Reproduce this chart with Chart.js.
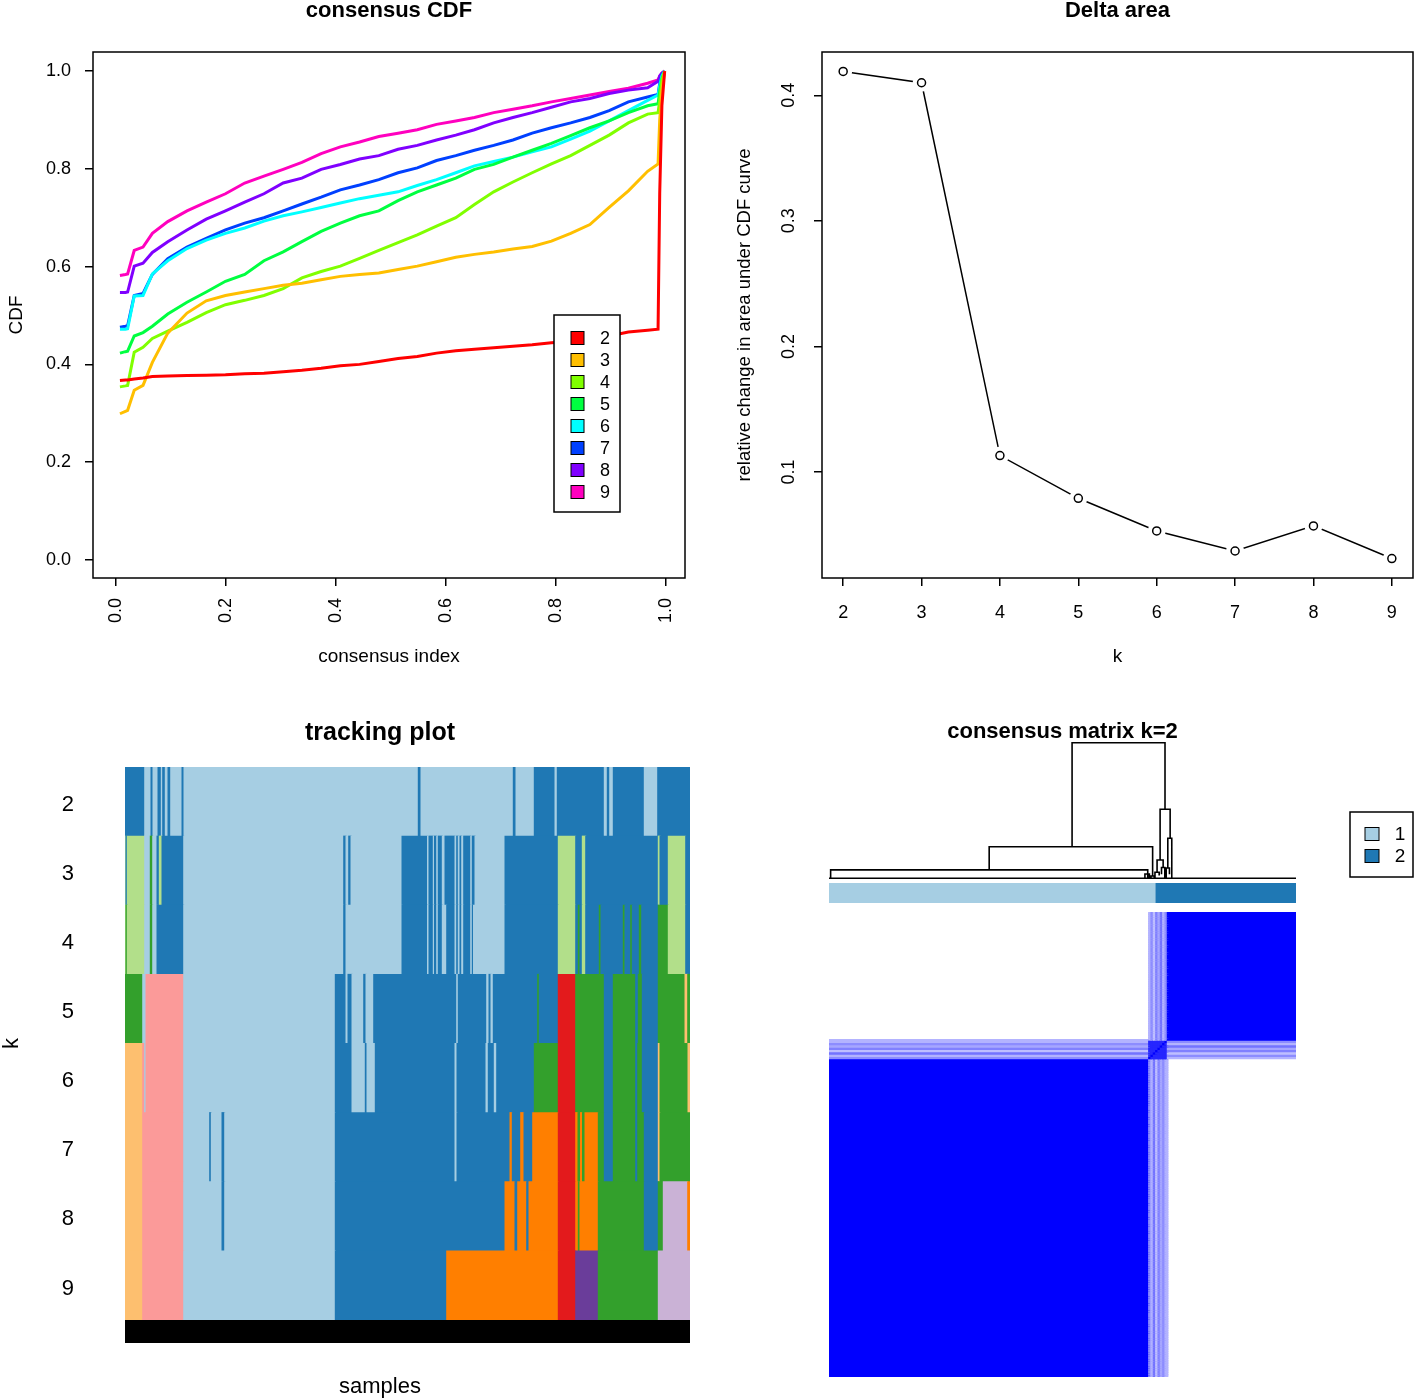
<!DOCTYPE html>
<html>
<head>
<meta charset="utf-8">
<title>consensus clustering</title>
<script src="https://cdn.jsdelivr.net/npm/chart.js@4.4.1/dist/chart.umd.min.js"></script>
<style>
  html, body { margin: 0; padding: 0; background: #fff; }
  body { width: 1416px; height: 1400px; position: relative; overflow: hidden; }
  canvas { position: absolute; }
</style>
</head>
<body>
<canvas id="cdfChart" width="708" height="700" style="left:0;top:0"></canvas>
<canvas id="deltaChart" width="708" height="700" style="left:708px;top:0"></canvas>
<canvas id="trackChart" width="760" height="700" style="left:0;top:700px"></canvas>
<canvas id="dendroChart" width="656" height="206" style="left:760px;top:700px"></canvas>
<canvas id="clusterBar" width="656" height="20" style="left:760px;top:883px"></canvas>
<canvas id="heatChart" width="656" height="465" style="left:760px;top:912px"></canvas>
<script>
// ---- consensus CDF (one y array per k, shared consensus index grid) ----
const cdfIndex = [0.007, 0.017, 0.021, 0.033, 0.049, 0.066, 0.094, 0.129, 0.164, 0.199, 0.234, 0.269, 0.304, 0.338, 0.373, 0.408, 0.443, 0.478, 0.513, 0.548, 0.583, 0.618, 0.652, 0.687, 0.722, 0.757, 0.792, 0.827, 0.862, 0.897, 0.932, 0.967, 0.986, 0.989, 0.993, 0.998];
const cdfK2 = [0.367, 0.368, 0.368, 0.370, 0.372, 0.375, 0.376, 0.377, 0.378, 0.379, 0.381, 0.382, 0.385, 0.388, 0.392, 0.397, 0.400, 0.406, 0.412, 0.416, 0.423, 0.428, 0.431, 0.434, 0.437, 0.440, 0.444, 0.447, 0.451, 0.458, 0.466, 0.470, 0.472, 0.75, 0.93, 1.0];
const cdfK3 = [0.299, 0.304, 0.306, 0.347, 0.357, 0.404, 0.464, 0.505, 0.530, 0.541, 0.548, 0.555, 0.562, 0.566, 0.573, 0.580, 0.584, 0.587, 0.594, 0.601, 0.610, 0.619, 0.625, 0.630, 0.636, 0.641, 0.652, 0.668, 0.686, 0.721, 0.755, 0.795, 0.81, 0.90, 0.96, 1.0];
const cdfK4 = [0.354, 0.356, 0.357, 0.425, 0.435, 0.453, 0.468, 0.486, 0.506, 0.522, 0.531, 0.541, 0.555, 0.577, 0.590, 0.601, 0.617, 0.633, 0.649, 0.665, 0.683, 0.700, 0.727, 0.753, 0.773, 0.792, 0.810, 0.827, 0.848, 0.869, 0.894, 0.912, 0.915, 0.94, 0.98, 1.0];
const cdfK5 = [0.423, 0.426, 0.427, 0.458, 0.465, 0.478, 0.503, 0.527, 0.548, 0.570, 0.584, 0.612, 0.630, 0.651, 0.672, 0.689, 0.704, 0.714, 0.735, 0.753, 0.767, 0.781, 0.799, 0.809, 0.824, 0.838, 0.852, 0.868, 0.884, 0.898, 0.915, 0.929, 0.933, 0.96, 0.985, 1.0];
const cdfK6 = [0.472, 0.472, 0.473, 0.540, 0.541, 0.585, 0.612, 0.637, 0.654, 0.668, 0.679, 0.693, 0.704, 0.712, 0.721, 0.730, 0.739, 0.746, 0.753, 0.766, 0.778, 0.792, 0.806, 0.815, 0.824, 0.835, 0.845, 0.861, 0.877, 0.898, 0.919, 0.940, 0.951, 0.97, 0.99, 1.0];
const cdfK7 = [0.476, 0.478, 0.479, 0.541, 0.545, 0.584, 0.616, 0.640, 0.658, 0.675, 0.689, 0.700, 0.714, 0.728, 0.742, 0.757, 0.767, 0.778, 0.792, 0.802, 0.817, 0.827, 0.838, 0.848, 0.859, 0.873, 0.884, 0.894, 0.905, 0.919, 0.937, 0.947, 0.952, 0.975, 0.993, 1.0];
const cdfK8 = [0.547, 0.547, 0.548, 0.601, 0.607, 0.629, 0.651, 0.675, 0.697, 0.714, 0.732, 0.749, 0.771, 0.781, 0.799, 0.809, 0.820, 0.827, 0.840, 0.848, 0.859, 0.869, 0.880, 0.894, 0.905, 0.915, 0.926, 0.937, 0.944, 0.954, 0.961, 0.966, 0.979, 0.99, 0.996, 1.0];
const cdfK9 = [0.582, 0.584, 0.585, 0.633, 0.640, 0.668, 0.692, 0.714, 0.732, 0.749, 0.771, 0.785, 0.799, 0.813, 0.831, 0.845, 0.855, 0.866, 0.873, 0.880, 0.891, 0.898, 0.905, 0.915, 0.922, 0.929, 0.937, 0.944, 0.951, 0.958, 0.965, 0.975, 0.982, 0.99, 0.996, 1.0];
const cdfSeries = [cdfK2, cdfK3, cdfK4, cdfK5, cdfK6, cdfK7, cdfK8, cdfK9];
const kLabels = ['2', '3', '4', '5', '6', '7', '8', '9'];
const kColors = ['#FF0000', '#FFBF00', '#80FF00', '#00FF40', '#00FFFF', '#0040FF', '#8000FF', '#FF00BF'];

// ---- delta area ----
const deltaK = [2, 3, 4, 5, 6, 7, 8, 9];
const deltaArea = [0.419, 0.410, 0.113, 0.079, 0.053, 0.037, 0.057, 0.031];

// ---- tracking plot: runs of samples [from, to, cluster colour] for each k ----
const trackColors = { LB: '#A6CEE3', DB: '#1F78B4', LG: '#B2DF8A', G: '#33A02C', P: '#FB9A99', R: '#E31A1C', LO: '#FDBF6F', O: '#FF7F00', LP: '#CAB2D6', PU: '#6A3D9A' };
const trackK2 = [[0,19.7,'DB'],[19.7,26,'LB'],[26,28,'DB'],[28,33,'LB'],[33,36.3,'DB'],[36.3,37.7,'LB'],[37.7,40.3,'DB'],[40.3,43,'LB'],[43,45.7,'DB'],[45.7,57,'LB'],[57,59,'DB'],[59,293.3,'LB'],[293.3,296,'DB'],[296,388.3,'LB'],[388.3,391,'DB'],[391,409.3,'LB'],[409.3,430,'DB'],[430,432.3,'LB'],[432.3,479.3,'DB'],[479.3,482.3,'LB'],[482.3,484.7,'DB'],[484.7,488.3,'LB'],[488.3,519.3,'DB'],[519.3,532.7,'LB'],[532.7,565,'DB']];
const trackK3 = [[0,1,'LG'],[1,2.3,'DB'],[2.3,19.7,'LG'],[19.7,25.3,'LB'],[25.3,27.7,'G'],[27.7,32,'LB'],[32,34.3,'DB'],[34.3,37,'LG'],[37,58.7,'DB'],[58.7,218.7,'LB'],[218.7,221,'DB'],[221,223.7,'LB'],[223.7,226,'DB'],[226,277,'LB'],[277,302.5,'DB'],[302.5,304,'LB'],[304,308.3,'DB'],[308.3,309.5,'LB'],[309.5,311.7,'DB'],[311.7,313.3,'LB'],[313.3,317.3,'DB'],[317.3,320,'LB'],[320,330,'DB'],[330,331.7,'LB'],[331.7,333.3,'DB'],[333.3,335,'LB'],[335,336.7,'DB'],[336.7,338.7,'LB'],[338.7,345.7,'DB'],[345.7,347.3,'LB'],[347.3,350,'DB'],[350,380,'LB'],[380,433.3,'DB'],[433.3,450.7,'LG'],[450.7,457.3,'DB'],[457.3,460.7,'LG'],[460.7,533.3,'DB'],[533.3,535,'LG'],[535,543.3,'DB'],[543.3,560.7,'LG'],[560.7,565,'DB']];
const trackK4 = [[0,1,'LG'],[1,2.3,'G'],[2.3,19.7,'LG'],[19.7,25.3,'LB'],[25.3,27.7,'G'],[27.7,32,'LB'],[32,58.7,'DB'],[58.7,218.7,'LB'],[218.7,221,'DB'],[221,277,'LB'],[277,302.5,'DB'],[302.5,304,'LB'],[304,308.3,'DB'],[308.3,309.5,'LB'],[309.5,311.7,'DB'],[311.7,313.3,'LB'],[313.3,317.3,'DB'],[317.3,321.7,'LB'],[321.7,330,'DB'],[330,331.7,'LB'],[331.7,333.3,'DB'],[333.3,335,'LB'],[335,336.7,'DB'],[336.7,338.7,'LB'],[338.7,345.7,'DB'],[345.7,347.3,'LB'],[347.3,348.5,'DB'],[348.5,380,'LB'],[380,433.3,'DB'],[433.3,450.7,'LG'],[450.7,453.3,'DB'],[453.3,455,'G'],[455,457.3,'DB'],[457.3,460.7,'LG'],[460.7,474.3,'DB'],[474.3,476,'G'],[476,498.3,'DB'],[498.3,500,'G'],[500,505.7,'DB'],[505.7,507.3,'G'],[507.3,514.3,'DB'],[514.3,516.7,'G'],[516.7,533.3,'DB'],[533.3,543.3,'G'],[543.3,560.7,'LG'],[560.7,565,'DB']];
const trackK5 = [[0,17.7,'G'],[17.7,21,'LB'],[21,58.7,'P'],[58.7,210.3,'LB'],[210.3,221,'DB'],[221,223,'LB'],[223,227,'DB'],[227,238.7,'LB'],[238.7,241,'DB'],[241,248.7,'LB'],[248.7,331.7,'DB'],[331.7,333.3,'LB'],[333.3,361.7,'DB'],[361.7,364,'LB'],[364,366,'DB'],[366,368.3,'LB'],[368.3,412.7,'DB'],[412.7,414.3,'G'],[414.3,433.3,'DB'],[433.3,450.7,'R'],[450.7,479.3,'G'],[479.3,488.3,'DB'],[488.3,510.7,'G'],[510.7,513.3,'DB'],[513.3,517.3,'G'],[517.3,533.3,'DB'],[533.3,560,'G'],[560,562.7,'LO'],[562.7,565,'G']];
const trackK6 = [[0,17.7,'LO'],[17.7,19.7,'P'],[19.7,21,'LB'],[21,58.7,'P'],[58.7,210.3,'LB'],[210.3,227,'DB'],[227,240.3,'LB'],[240.3,242,'DB'],[242,250.3,'LB'],[250.3,330,'DB'],[330,332,'LB'],[332,361,'DB'],[361,363.3,'LB'],[363.3,369.3,'DB'],[369.3,371.7,'LB'],[371.7,409.3,'DB'],[409.3,433.3,'G'],[433.3,450.7,'R'],[450.7,479.3,'G'],[479.3,488.3,'DB'],[488.3,510.7,'G'],[510.7,512.7,'DB'],[512.7,517.3,'G'],[517.3,533.3,'DB'],[533.3,535,'LO'],[535,563,'G'],[563,565,'LO']];
const trackK7 = [[0,17.7,'LO'],[17.7,58.7,'P'],[58.7,84.7,'LB'],[84.7,86.3,'DB'],[86.3,97,'LB'],[97,99.7,'DB'],[99.7,210.3,'LB'],[210.3,330,'DB'],[330,332,'LB'],[332,385,'DB'],[385,387.3,'O'],[387.3,395.7,'DB'],[395.7,399,'O'],[399,407.7,'DB'],[407.7,433.3,'O'],[433.3,450.7,'R'],[450.7,453,'O'],[453,455.5,'G'],[455.5,457.5,'O'],[457.5,460,'G'],[460,473.3,'O'],[473.3,479.3,'G'],[479.3,488.3,'DB'],[488.3,510.7,'G'],[510.7,512.7,'DB'],[512.7,519.3,'G'],[519.3,533.3,'DB'],[533.3,535,'LO'],[535,565,'G']];
const trackK8 = [[0,17.7,'LO'],[17.7,58.7,'P'],[58.7,97,'LB'],[97,99.7,'DB'],[99.7,210.3,'LB'],[210.3,380,'DB'],[380,390,'O'],[390,392.7,'DB'],[392.7,401.7,'O'],[401.7,404,'DB'],[404,433.3,'O'],[433.3,450.7,'R'],[450.7,453.3,'O'],[453.3,455,'G'],[455,473.3,'O'],[473.3,519.3,'G'],[519.3,533.3,'DB'],[533.3,538.3,'G'],[538.3,562.7,'LP'],[562.7,565,'O']];
const trackK9 = [[0,17.7,'LO'],[17.7,58.7,'P'],[58.7,210.3,'LB'],[210.3,321.7,'DB'],[321.7,433.3,'O'],[433.3,450.7,'R'],[450.7,473.3,'PU'],[473.3,533.3,'G'],[533.3,565,'LP']];
const trackRows = [trackK2, trackK3, trackK4, trackK5, trackK6, trackK7, trackK8, trackK9];
const sampleCount = 565;

// ---- consensus matrix k=2 ----
const clusterLabels = ['1', '2'];
const clusterColors = ['#A6CEE3', '#1F78B4'];
const clusterBreaks = [0, 140, 200];
const heatGroupSizes = [137, 8, 55]; // stable cluster 1, unstable samples, stable cluster 2
const bandVsC1 = [0.45, 0.30, 0.55, 0.25, 0.50, 0.35, 0.45, 0.30];
const bandVsC2 = [0.30, 0.45, 0.25, 0.50, 0.35, 0.55, 0.30, 0.45];
const bandVsBand = 0.85;

// dendrogram brackets: left x, right x, merge height, left leg bottom, right leg bottom
const dendroLeft  = [104.1, 68.6, 0.7, 141.8, 145.1, 140.5, 135.3, 139.6, 142.4, 144.4, 137.9, 0];
const dendroRight = [143.9, 138.6, 136.5, 146.1, 146.8, 143.1, 137.2, 141.4, 143.8, 145.8, 139.3, 200];
const dendroHeight = [1.0, 0.233, 0.062, 0.509, 0.295, 0.135, 0.032, 0.045, 0.08, 0.076, 0.017, 0];
const dendroDropL = [0.233, 0.062, 0, 0.135, 0.076, 0.045, 0, 0, 0.03, 0, 0, 0];
const dendroDropR = [0.509, 0.017, 0, 0.295, 0, 0.08, 0, 0.02, 0, 0.03, 0, 0];

document.addEventListener('DOMContentLoaded', () => {
    Chart.defaults.font.family = '"Liberation Sans", Arial, Helvetica, sans-serif';
    Chart.defaults.color = '#000';
    Chart.defaults.animation = false;
    Chart.defaults.events = [];
    Chart.defaults.plugins.legend.display = false;
    Chart.defaults.plugins.tooltip.enabled = false;

    // box round the plot region, like R's box()
    const framePlugin = {
        id: 'frame',
        afterDraw(chart) {
            const { ctx, chartArea: a } = chart;
            ctx.save();
            ctx.strokeStyle = '#000';
            ctx.lineWidth = 1.5;
            ctx.strokeRect(a.left, a.top, a.right - a.left, a.bottom - a.top);
            ctx.restore();
        },
    };

    const tickGrid = { display: true, drawOnChartArea: false, drawTicks: true, tickLength: 8, color: '#000', lineWidth: 1.5 };

    // fixed axis sizes, and no extra room asked for the end labels
    const fixHeight = h => s => { s.height = h; s.paddingLeft = 0; s.paddingRight = 0; };
    const fixWidth = w => s => { s.width = w; s.paddingTop = 0; s.paddingBottom = 0; };

    // ---------- consensus CDF ----------
    const cdfLegend = {
        id: 'cdfLegend',
        afterDatasetsDraw(chart) {
            const ctx = chart.ctx;
            ctx.save();
            ctx.fillStyle = '#fff';
            ctx.fillRect(554, 315, 66, 197);
            ctx.strokeStyle = '#000';
            ctx.lineWidth = 1.5;
            ctx.strokeRect(554, 315, 66, 197);
            ctx.font = '18px "Liberation Sans", Arial, sans-serif';
            ctx.textAlign = 'center';
            ctx.textBaseline = 'middle';
            chart.data.datasets.forEach((ds, i) => {
                const y = 338 + i * 22;
                ctx.fillStyle = ds.borderColor;
                ctx.fillRect(571, y - 6.5, 13, 13);
                ctx.lineWidth = 1;
                ctx.strokeRect(571, y - 6.5, 13, 13);
                ctx.fillStyle = '#000';
                ctx.fillText(ds.label, 605, y + 1);
            });
            ctx.restore();
        },
    };

    new Chart(document.getElementById('cdfChart').getContext('2d'), {
        type: 'line',
        data: {
            datasets: cdfSeries.map((ys, i) => ({
                label: kLabels[i],
                data: cdfIndex.map((x, j) => ({ x, y: ys[j] })),
                borderColor: kColors[i],
                borderWidth: 3,
                pointRadius: 0,
                fill: false,
            })),
        },
        options: {
            responsive: false,
            layout: { autoPadding: false, padding: { left: 0, right: 23, top: 0, bottom: 0 } },
            plugins: {
                title: {
                    display: true, text: 'consensus CDF', fullSize: false,
                    font: { size: 22, weight: 'bold', lineHeight: 1 },
                    padding: { top: 0, bottom: 30 }, color: '#000',
                },
            },
            scales: {
                x: {
                    type: 'linear', min: -0.042, max: 1.035,
                    afterFit: fixHeight(122),
                    grid: tickGrid,
                    border: { display: false },
                    ticks: { stepSize: 0.2, includeBounds: false, minRotation: 90, maxRotation: 90, padding: 12, font: { size: 18 }, callback: v => v.toFixed(1) },
                    title: { display: true, text: 'consensus index', font: { size: 19, lineHeight: 1 }, padding: { top: 0, bottom: 33.5 } },
                },
                y: {
                    min: -0.037, max: 1.039,
                    afterFit: fixWidth(93),
                    grid: tickGrid,
                    border: { display: false },
                    ticks: { stepSize: 0.2, includeBounds: false, padding: 14, font: { size: 18 }, callback: v => v.toFixed(1) },
                    title: { display: true, text: 'CDF', font: { size: 19, lineHeight: 1 }, padding: { top: 7, bottom: 0 } },
                },
            },
        },
        plugins: [cdfLegend, framePlugin],
    });

    // ---------- Delta area ----------
    const deltaPoints = deltaK.map((k, i) => ({ x: k, y: deltaArea[i] }));
    new Chart(document.getElementById('deltaChart').getContext('2d'), {
        type: 'line',
        data: {
            datasets: [
                { data: deltaPoints, showLine: false, pointRadius: 4, pointBorderWidth: 1.5, pointBorderColor: '#000', pointBackgroundColor: '#fff', order: 0 },
                { data: deltaPoints, showLine: false, pointRadius: 9, pointBorderWidth: 0, pointBackgroundColor: '#fff', order: 1 },
                { data: deltaPoints, borderColor: '#000', borderWidth: 1.5, pointRadius: 0, fill: false, order: 2 },
            ],
        },
        options: {
            responsive: false,
            layout: { autoPadding: false, padding: { left: 0, right: 3, top: 0, bottom: 0 } },
            plugins: {
                title: {
                    display: true, text: 'Delta area', fullSize: false,
                    font: { size: 22, weight: 'bold', lineHeight: 1 },
                    padding: { top: 0, bottom: 30 }, color: '#000',
                },
            },
            scales: {
                x: {
                    type: 'linear', min: 1.73, max: 9.27,
                    afterFit: fixHeight(122),
                    grid: tickGrid,
                    border: { display: false },
                    ticks: { stepSize: 1, includeBounds: false, padding: 16, font: { size: 18 } },
                    title: { display: true, text: 'k', font: { size: 19, lineHeight: 1 }, padding: { top: 0, bottom: 33.5 } },
                },
                y: {
                    min: 0.0155, max: 0.4345,
                    afterFit: fixWidth(114),
                    grid: tickGrid,
                    border: { display: false },
                    ticks: { stepSize: 0.1, includeBounds: false, minRotation: 90, maxRotation: 90, crossAlign: 'center', padding: 12.5, font: { size: 18 }, callback: v => v.toFixed(1) },
                    title: { display: true, text: 'relative change in area under CDF curve', font: { size: 18.5, lineHeight: 1 }, padding: { top: 27.75, bottom: 0 } },
                },
            },
        },
        plugins: [framePlugin],
    });

    // ---------- tracking plot ----------
    const trackData = [];
    trackRows.forEach((row, r) => {
        row.forEach(([from, to, key]) => {
            trackData.push({ y: kLabels[r], x: [from, to], c: trackColors[key] });
        });
    });

    // the sample-name strip under the rows
    const sampleStrip = {
        id: 'sampleStrip',
        afterDatasetsDraw(chart) {
            const { ctx, chartArea: a } = chart;
            ctx.save();
            ctx.fillStyle = '#000';
            ctx.fillRect(a.left, a.bottom, a.right - a.left, 23);
            ctx.restore();
        },
    };

    new Chart(document.getElementById('trackChart').getContext('2d'), {
        type: 'bar',
        data: {
            labels: kLabels,
            datasets: [{
                data: trackData,
                backgroundColor: c => (c.raw ? c.raw.c : '#000'),
                borderWidth: 0,
                inflateAmount: 0.5,
                barPercentage: 1,
                categoryPercentage: 1,
            }],
        },
        options: {
            indexAxis: 'y',
            responsive: false,
            layout: { padding: 0 },
            plugins: {
                title: {
                    display: true, text: 'tracking plot',
                    font: { size: 25, weight: 'bold', lineHeight: 1 },
                    padding: { top: 20.5, bottom: 21.5 }, color: '#000',
                },
                subtitle: {
                    display: true, text: 'samples', position: 'bottom',
                    font: { size: 22, lineHeight: 1 },
                    padding: { top: 56, bottom: 2 }, color: '#000',
                },
            },
            scales: {
                x: { type: 'linear', min: 0, max: sampleCount, display: false },
                y: {
                    type: 'category', offset: true,
                    afterFit: s => { s.width = 125; },
                    grid: { display: false, drawTicks: false },
                    border: { display: false },
                    ticks: { padding: 51, labelOffset: 3, font: { size: 22 } },
                    title: { display: true, text: 'k', font: { size: 22, lineHeight: 1 }, padding: { top: 1, bottom: 0 } },
                },
                // empty right margin so the titles centre on the whole panel
                yRight: {
                    type: 'category', position: 'right', labels: [''],
                    afterFit: s => { s.width = 70; },
                    grid: { display: false, drawTicks: false },
                    border: { display: false },
                    ticks: { display: false },
                },
            },
        },
        plugins: [sampleStrip],
    });

    // ---------- consensus matrix: dendrogram ----------
    const dendroPoints = [];
    dendroLeft.forEach((l, i) => {
        const r = dendroRight[i];
        dendroPoints.push(
            { x: l, y: dendroDropL[i] },
            { x: l, y: dendroHeight[i] },
            { x: r, y: dendroHeight[i] },
            { x: r, y: dendroDropR[i] },
            { x: r, y: null },
        );
    });

    const clusterLegend = {
        id: 'clusterLegend',
        afterDraw(chart) {
            const ctx = chart.ctx;
            ctx.save();
            ctx.strokeStyle = '#000';
            ctx.lineWidth = 1.5;
            ctx.strokeRect(590, 112, 63, 65);
            ctx.font = '19px "Liberation Sans", Arial, sans-serif';
            ctx.textAlign = 'center';
            ctx.textBaseline = 'middle';
            clusterLabels.forEach((lab, i) => {
                const y = 134 + i * 22;
                ctx.fillStyle = clusterColors[i];
                ctx.fillRect(605, y - 6.5, 14, 13);
                ctx.lineWidth = 1;
                ctx.strokeRect(605, y - 6.5, 14, 13);
                ctx.fillStyle = '#000';
                ctx.fillText(lab, 640, y + 1);
            });
            ctx.restore();
        },
    };

    new Chart(document.getElementById('dendroChart').getContext('2d'), {
        type: 'line',
        data: {
            datasets: [{
                data: dendroPoints,
                borderColor: '#000',
                borderWidth: 1.6,
                pointRadius: 0,
                spanGaps: false,
                fill: false,
                clip: false,
            }],
        },
        options: {
            responsive: false,
            layout: { autoPadding: false, padding: { left: 69, right: 120, top: 0, bottom: 26 } },
            plugins: {
                title: {
                    display: true, text: 'consensus matrix k=2', fullSize: false,
                    font: { size: 22, weight: 'bold', lineHeight: 0.5 },
                    padding: { top: 26.5, bottom: 2.5 }, color: '#000',
                },
            },
            scales: {
                x: { type: 'linear', min: 0, max: 200, display: false },
                y: { min: -0.0125, max: 1.02, display: false },
            },
        },
        plugins: [clusterLegend],
    });

    // ---------- consensus matrix: cluster colour bar ----------
    new Chart(document.getElementById('clusterBar').getContext('2d'), {
        type: 'bar',
        data: {
            labels: ['cluster'],
            datasets: [{
                data: clusterLabels.map((lab, i) => ({ y: 'cluster', x: [clusterBreaks[i], clusterBreaks[i + 1]] })),
                backgroundColor: clusterColors,
                borderWidth: 0,
                barPercentage: 1,
                categoryPercentage: 1,
            }],
        },
        options: {
            indexAxis: 'y',
            responsive: false,
            layout: { padding: { left: 69, right: 120, top: 0, bottom: 0 } },
            scales: {
                x: { type: 'linear', min: 0, max: 200, display: false },
                y: { display: false },
            },
        },
    });

    // ---------- consensus matrix: heatmap ----------
    const bandStart = heatGroupSizes[0];
    const bandEnd = bandStart + heatGroupSizes[1];
    const total = bandEnd + heatGroupSizes[2];

    function groupOf(i) {
        if (i < bandStart) return { g: 'c1' };
        if (i < bandEnd) return { g: 'band', k: i - bandStart };
        return { g: 'c2' };
    }
    function consensus(a, b) {
        if (a.g === 'band' && b.g === 'band') return a.k === b.k ? 1 : bandVsBand;
        if (a.g === 'band') return b.g === 'c1' ? bandVsC1[a.k] : bandVsC2[a.k];
        if (b.g === 'band') return a.g === 'c1' ? bandVsC1[b.k] : bandVsC2[b.k];
        return a.g === b.g ? 1 : 0;
    }
    const shade = v => {
        const c = Math.round(255 * (1 - v));
        return `rgb(${c},${c},255)`;
    };

    // column blocks: whole stable groups, single columns inside the unstable band
    const colBlocks = [[0, bandStart]];
    for (let j = bandStart; j < bandEnd; j++) colBlocks.push([j, j + 1]);
    colBlocks.push([bandEnd, total]);

    const heatData = [];
    for (let i = 0; i < total; i++) {
        const gi = groupOf(i);
        colBlocks.forEach(([from, to]) => {
            const v = consensus(gi, groupOf(from));
            if (v > 0) heatData.push({ y: i + 0.5, x: [from, to], c: shade(v) });
        });
    }

    new Chart(document.getElementById('heatChart').getContext('2d'), {
        type: 'bar',
        data: {
            datasets: [{
                data: heatData,
                backgroundColor: c => (c.raw ? c.raw.c : '#fff'),
                borderWidth: 0,
                inflateAmount: 0.8,
                barPercentage: 1,
                categoryPercentage: 1,
            }],
        },
        options: {
            indexAxis: 'y',
            responsive: false,
            layout: { padding: { left: 69, right: 120, top: 0, bottom: 0 } },
            scales: {
                x: { type: 'linear', min: 0, max: total, display: false },
                y: { type: 'linear', min: 0, max: total, offset: false, display: false },
            },
        },
    });
});
</script>
</body>
</html>
